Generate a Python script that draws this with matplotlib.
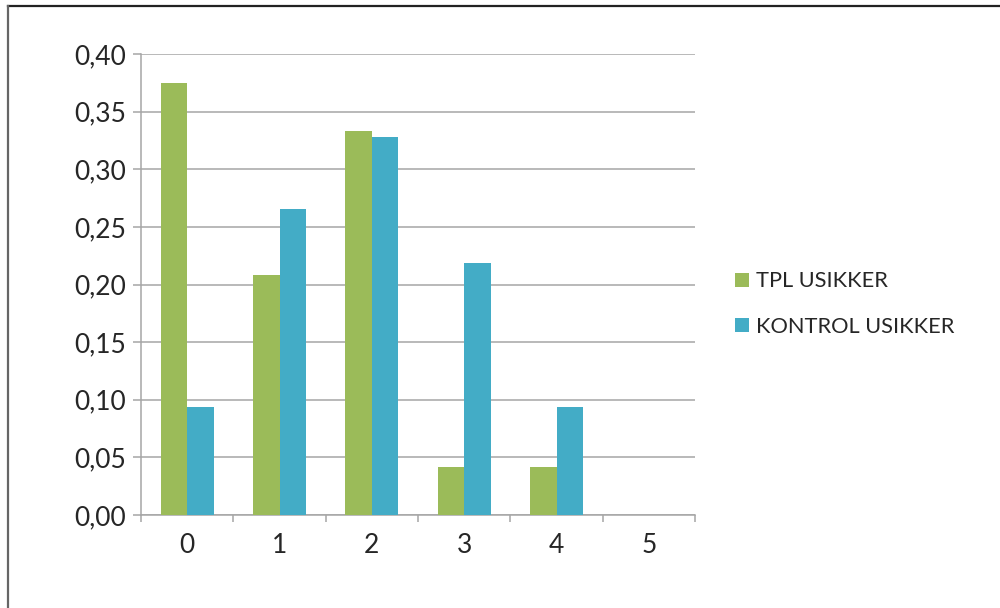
import matplotlib.pyplot as plt
from matplotlib.lines import Line2D
from matplotlib.ticker import FixedLocator, FuncFormatter
import numpy as np

categories = ["0", "1", "2", "3", "4", "5"]
tpl_usikker = [0.375, 0.208, 0.333, 0.042, 0.042, 0.0]
kontrol_usikker = [0.094, 0.266, 0.328, 0.219, 0.094, 0.0]
series_names = ["TPL USIKKER", "KONTROL USIKKER"]
y_ticks = [0.00, 0.05, 0.10, 0.15, 0.20, 0.25, 0.30, 0.35, 0.40]

green = "#9BBB59"
blue = "#43ACC6"
grid_grey = "#A6A6A6"
text_col = "#262626"

plt.rcParams["font.family"] = ["Lato", "DejaVu Sans"]

fig = plt.figure(figsize=(10, 6.08), dpi=100)
ax = fig.add_axes([0.141, 0.153, 0.554, 0.758])

# outer frame (only top and left visible in the crop)
fig.add_artist(Line2D([0.008, 1.0], [0.990, 0.990], color="#222222", lw=1.6,
                      transform=fig.transFigure))
fig.add_artist(Line2D([0.008, 0.008], [0.0, 0.990], color="#666666", lw=1.6,
                      transform=fig.transFigure))

x = np.arange(len(categories))
w = 0.287
ax.bar(x - w / 2, tpl_usikker, width=w, color=green, label=series_names[0], zorder=3)
ax.bar(x + w / 2, kontrol_usikker, width=w, color=blue, label=series_names[1], zorder=3)

ax.set_xlim(-0.5, len(categories) - 0.5)
ax.set_ylim(0, 0.40)
ax.set_yticks(y_ticks)
ax.yaxis.set_major_formatter(FuncFormatter(lambda v, p: f"{v:.2f}".replace(".", ",")))
ax.grid(axis="y", color=grid_grey, lw=1.1, zorder=0)

ax.set_xticks(x)
ax.set_xticklabels(categories)
ax.xaxis.set_minor_locator(FixedLocator(np.arange(-0.5, len(categories), 1.0)))
ax.tick_params(axis="x", which="major", length=0, pad=13, labelsize=19, labelcolor=text_col)
ax.tick_params(axis="x", which="minor", length=5, width=1.1, color=grid_grey, direction="out")
ax.tick_params(axis="y", length=6, width=1.1, color=grid_grey, pad=5, labelsize=19,
               labelcolor=text_col)

for s in ["top", "right"]:
    ax.spines[s].set_visible(False)
for s in ["left", "bottom"]:
    ax.spines[s].set_color(grid_grey)
    ax.spines[s].set_linewidth(1.1)

fig.legend(loc="center left", bbox_to_anchor=(0.715, 0.50), frameon=False,
           handlelength=0.65, handleheight=0.65, handletextpad=0.35,
           labelspacing=1.15, prop={"size": 15.7}, labelcolor=text_col)

fig.savefig("out.png", dpi=100)
